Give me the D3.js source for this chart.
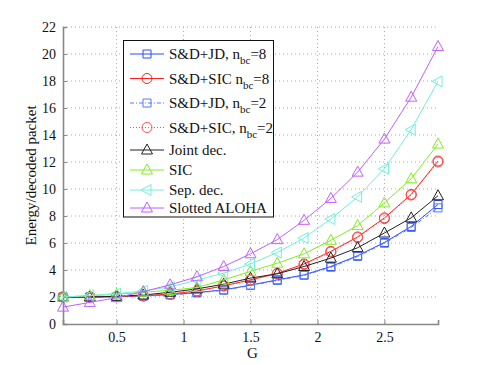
<!DOCTYPE html>
<html><head><meta charset="utf-8">
<script src="https://cdn.jsdelivr.net/npm/d3@7/dist/d3.min.js"></script>
<style>body{margin:0;background:#fff}svg{display:block}</style>
</head><body><svg id="c" width="485" height="365"></svg>
<script>
const G = [0.1,0.3,0.5,0.7,0.9,1.1,1.3,1.5,1.7,1.9,2.1,2.3,2.5,2.7,2.9];
const sdJd8  = [2.0,2.0,2.03,2.08,2.18,2.33,2.53,2.88,3.27,3.64,4.26,5.06,6.04,7.23,8.85];
const sdSic8 = [2.0,2.0,2.03,2.08,2.22,2.45,2.83,3.27,3.75,4.45,5.38,6.45,7.86,9.6,12.07];
const sdJd2  = [2.0,2.0,2.02,2.06,2.15,2.3,2.5,2.85,3.22,3.6,4.2,5.0,5.98,7.15,8.6];
const sdSic2 = [2.0,2.0,2.02,2.07,2.2,2.43,2.8,3.24,3.72,4.4,5.33,6.4,7.8,9.55,12.0];
const jointDec = [2.0,2.0,2.05,2.15,2.35,2.6,2.95,3.4,3.72,4.26,4.88,5.65,6.74,7.86,9.5];
const sic    = [2.0,2.1,2.2,2.35,2.5,2.7,3.27,3.9,4.5,5.2,6.2,7.29,8.97,10.76,13.33];
const sepDec = [2.0,2.1,2.25,2.45,2.75,3.25,3.77,4.44,5.3,6.37,7.78,9.42,11.5,14.4,17.97];
const aloha  = [1.25,1.6,1.95,2.4,2.9,3.5,4.26,5.2,6.25,7.68,9.3,11.25,13.7,16.8,20.55];
const yTicks = [0,2,4,6,8,10,12,14,16,18,20,22];
const xTicks = [0.5,1,1.5,2,2.5];

const FONT = "'Liberation Serif', 'Times New Roman', Times, serif";
const series = [
 {name:"S&D+JD, n", sub:"bc", tail:"=8", vals:sdJd8, color:"#2a4bff", marker:"square", dash:null},
 {name:"S&D+SIC n", sub:"bc", tail:"=8", vals:sdSic8, color:"#ff2020", marker:"circle", dash:null},
 {name:"S&D+JD, n", sub:"bc", tail:"=2", vals:sdJd2, color:"#5577ff", marker:"square", dash:"4,2,1,2"},
 {name:"S&D+SIC, n", sub:"bc", tail:"=2", vals:sdSic2, color:"#ff5050", marker:"circle", dash:"1,2"},
 {name:"Joint dec.", vals:jointDec, color:"#222222", marker:"triUp", dash:null},
 {name:"SIC", vals:sic, color:"#80ee20", marker:"triUp", dash:null},
 {name:"Sep. dec.", vals:sepDec, color:"#70f0dc", marker:"triLeft", dash:null},
 {name:"Slotted ALOHA", vals:aloha, color:"#c060ff", marker:"triUp", dash:null}
];

const svg = d3.select("#c").style("font-family", FONT);
const L=63, R=438, T=27, B=324;
const x = d3.scaleLinear().domain([0.1,2.9]).range([L,R]);
const y = d3.scaleLinear().domain([0,22]).range([B,T]);

// grid
const grid = svg.append("g");
xTicks.forEach(t=>grid.append("line").attr("x1",x(t)).attr("x2",x(t)).attr("y1",B).attr("y2",T)
  .attr("stroke","#aaa").attr("stroke-width",1).attr("stroke-dasharray","1,3"));
yTicks.filter(t=>t>0).forEach(t=>grid.append("line").attr("x1",L).attr("x2",R).attr("y1",y(t)).attr("y2",y(t))
  .attr("stroke","#aaa").attr("stroke-width",1).attr("stroke-dasharray","1,3"));

// axes
const xa = svg.append("g").attr("transform",`translate(0,${B})`)
  .call(d3.axisBottom(x).tickValues(xTicks).tickFormat(d3.format("")).tickSize(-4).tickPadding(8));
const ya = svg.append("g").attr("transform",`translate(${L},0)`)
  .call(d3.axisLeft(y).tickValues(yTicks).tickSize(-4).tickPadding(7));
[xa,ya].forEach(a=>{
  a.attr("font-family", null);
  a.select(".domain").attr("stroke","#888").attr("stroke-width",1.6);
  a.selectAll(".tick line").attr("stroke","#888");
  a.selectAll(".tick text").attr("font-size",14).attr("fill","#111").style("font-family", FONT);
});

function markerPath(type){
  if(type==="square") return "M-4,-4H4V4H-4Z";
  if(type==="circle") return d3.symbol(d3.symbolCircle, Math.PI*25)();
  if(type==="triUp") return "M0,-6L5.5,4L-5.5,4Z";
  if(type==="triLeft") return "M-6,0L4,-5.5L4,5.5Z";
}

const line = d3.line().x((d,i)=>x(G[i])).y(d=>y(d));
const plot = svg.append("g");
series.forEach(s=>{
  plot.append("path").datum(s.vals).attr("d",line).attr("fill","none")
    .attr("stroke",s.color).attr("stroke-width",1).attr("stroke-dasharray",s.dash);
  plot.selectAll(null).data(s.vals).enter().append("path")
    .attr("transform",(d,i)=>`translate(${x(G[i])},${y(d)})`)
    .attr("d",markerPath(s.marker)).attr("fill","none").attr("stroke",s.color).attr("stroke-width",1);
});

// legend
const lg = svg.append("g");
lg.append("rect").attr("x",123.5).attr("y",40.5).attr("width",150).attr("height",176.5)
  .attr("fill","#fff").attr("stroke","#111").attr("stroke-width",1);
const rowY = [54,78.5,103,127.5,150,170,190,208];
series.forEach((s,i)=>{
  const yy = rowY[i];
  lg.append("line").attr("x1",130).attr("x2",164).attr("y1",yy).attr("y2",yy)
    .attr("stroke",s.color).attr("stroke-width",1).attr("stroke-dasharray",s.dash);
  lg.append("path").attr("transform",`translate(147,${yy})`).attr("d",markerPath(s.marker))
    .attr("fill","none").attr("stroke",s.color);
  const t = lg.append("text").attr("x",169).attr("y",yy+5).attr("font-size",15).attr("fill","#111")
    .style("font-family", FONT);
  t.append("tspan").text(s.name);
  if(s.sub){
    t.append("tspan").attr("dy",5).attr("font-size",11).text(s.sub);
    t.append("tspan").attr("dy",-5).text(s.tail);
  }
});

// axis labels
svg.append("text").attr("x",(x(0.1)+x(2.9))/2+2).attr("y",358).attr("text-anchor","middle")
  .attr("font-size",15).attr("fill","#111").style("font-family", FONT).text("G");
svg.append("text").attr("transform",`translate(36,${(T+B)/2}) rotate(-90)`).attr("text-anchor","middle")
  .attr("font-size",15).attr("fill","#111").style("font-family", FONT).text("Energy/decoded packet");
</script></body></html>
